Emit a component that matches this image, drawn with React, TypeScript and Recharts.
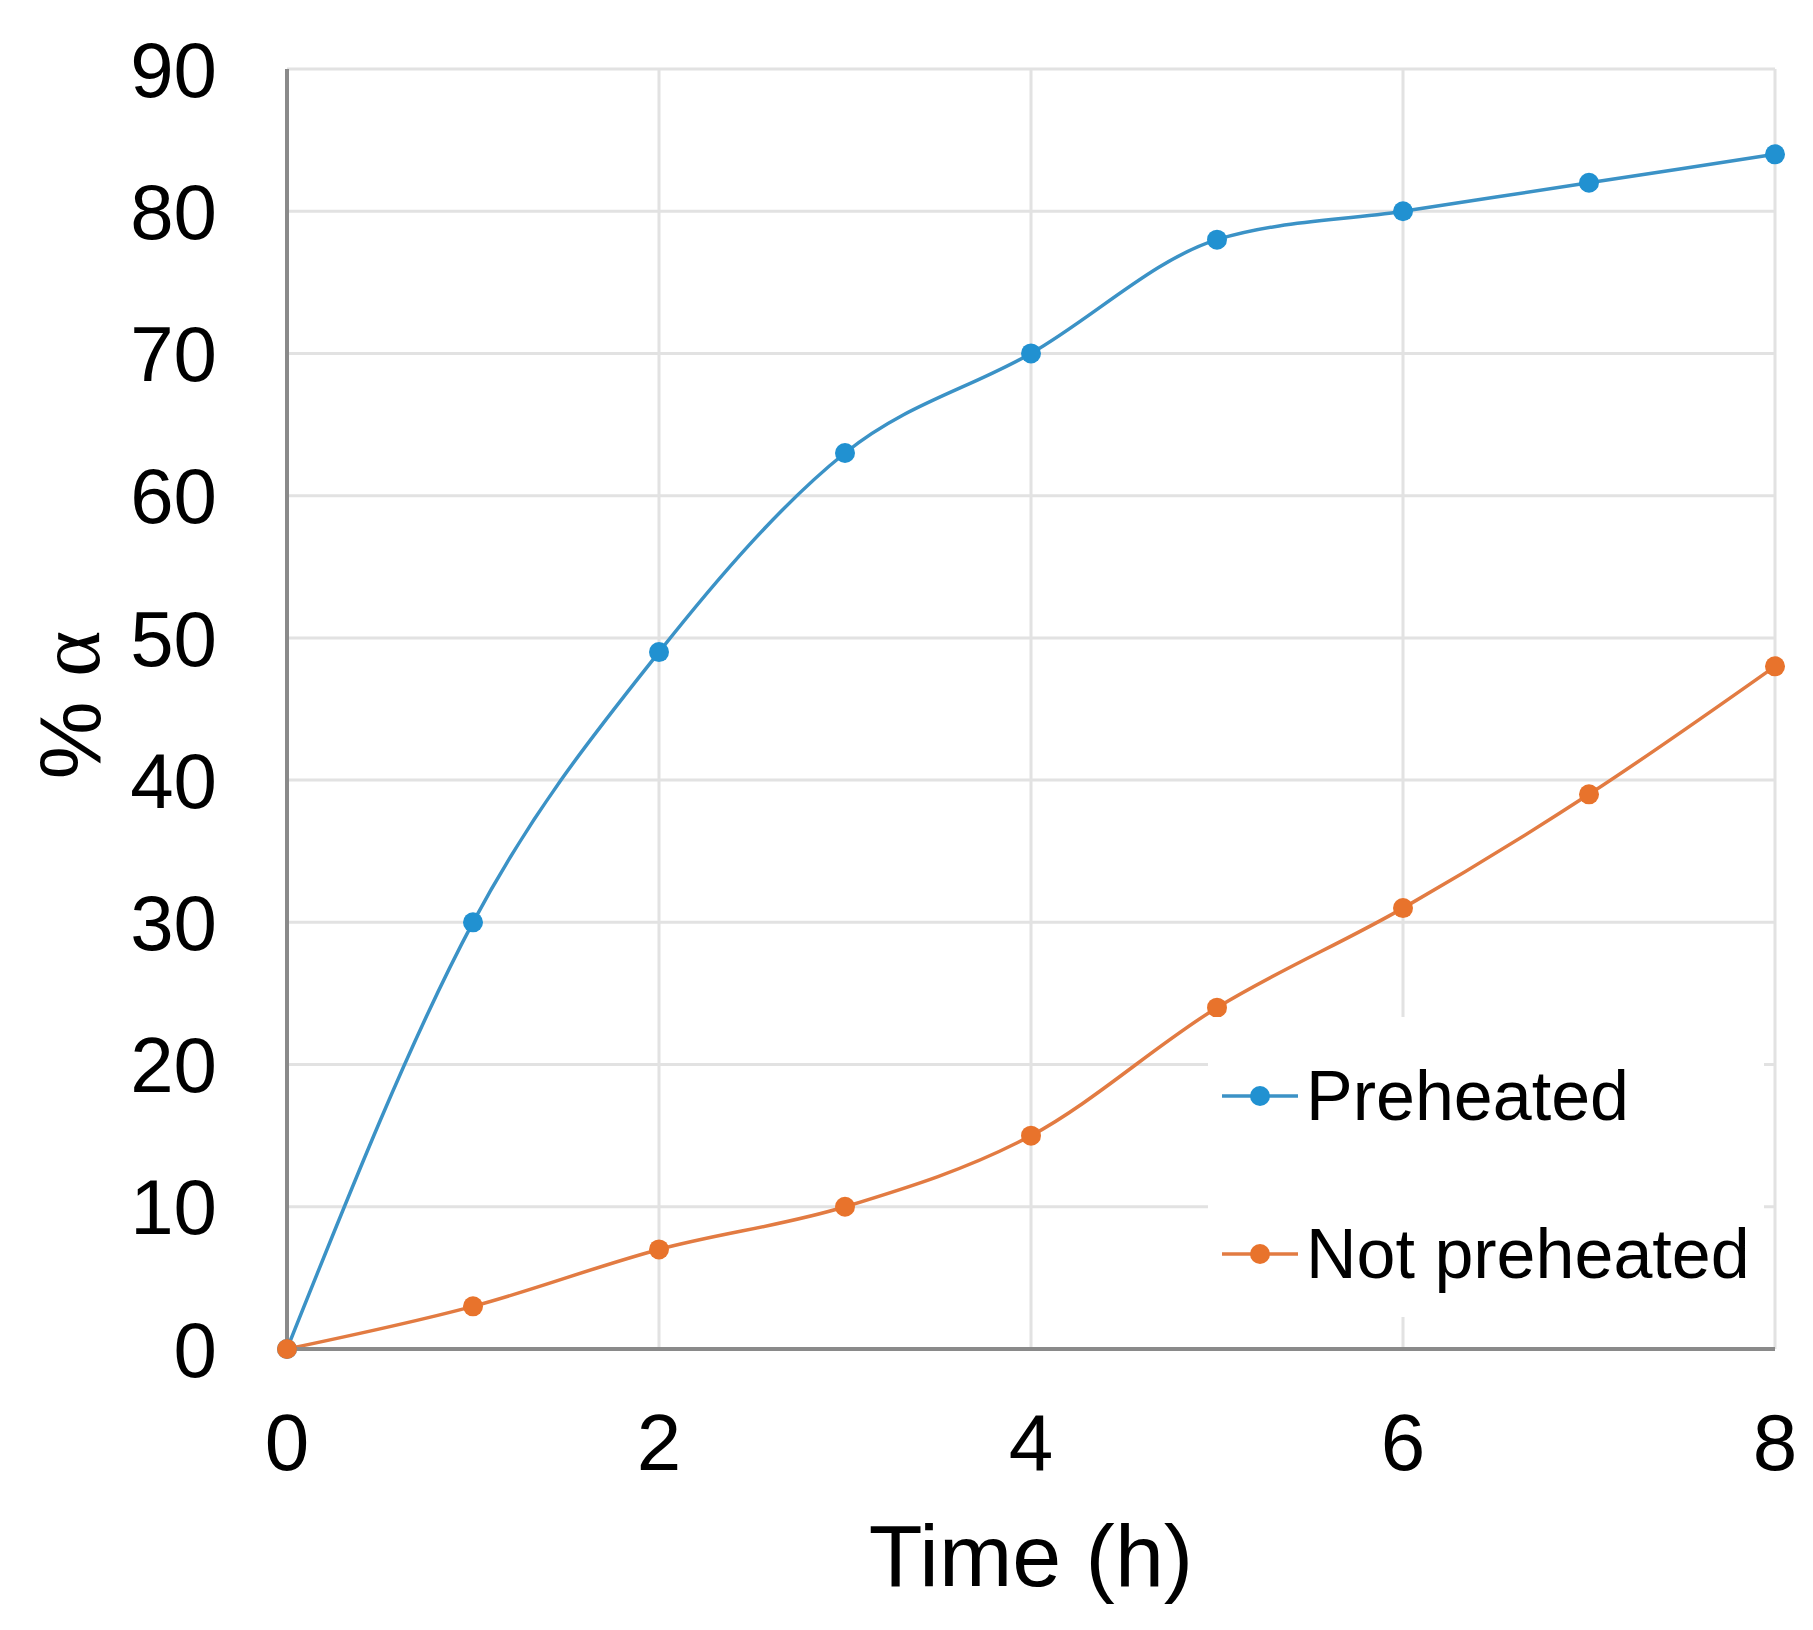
import React from "react"
import {
  CartesianGrid,
  Label,
  Legend,
  Line,
  LineChart,
  XAxis,
  YAxis,
} from "recharts"

const hours = [0, 1, 2, 3, 4, 5, 6, 7, 8]
const preheated = [0, 30, 49, 63, 70, 78, 80, 82, 84]
const notPreheated = [0, 3, 7, 10, 15, 24, 31, 39, 48]
const seriesNames = ["Preheated", "Not preheated"]
const xTicks = [0, 2, 4, 6, 8]
const yTicks = [0, 10, 20, 30, 40, 50, 60, 70, 80, 90]

const BLUE = "#2191d1"
const BLUE_LINE = "#3b92c6"
const ORANGE = "#e8732c"
const ORANGE_LINE = "#e27b42"
const SANS = "'Liberation Sans', Arial, sans-serif"

const data = hours.map((t, i) => ({
  t,
  preheated: preheated[i],
  notPreheated: notPreheated[i],
}))

function YTitle(props: any) {
  const vb = props.viewBox
  const x = vb.x + 69
  const y = vb.y + vb.height / 2 - 4
  return (
    <text
      x={x}
      y={y}
      transform={`rotate(-90 ${x} ${y})`}
      textAnchor="middle"
      dominantBaseline="central"
      fontSize={88}
      fontFamily={SANS}
      fill="#000"
    >
      %{" "}
      <tspan fontFamily="'Liberation Serif', serif">α</tspan>
    </text>
  )
}

function LegendBox(props: any) {
  // keep the series order (recharts sorts the payload by name)
  const items = [...(props.payload || [])].sort(
    (a: any, b: any) => seriesNames.indexOf(a.value) - seriesNames.indexOf(b.value)
  )
  return (
    <div style={{ background: "#fff", width: "100%", height: "100%", boxSizing: "border-box" }}>
      {items.map((item: any) => (
        <div key={item.value} style={{ display: "flex", alignItems: "center", height: 158 }}>
          <svg width={98} height={30} style={{ marginLeft: 14 }}>
            <line x1={0} y1={15} x2={76} y2={15} stroke={item.payload.stroke} strokeWidth={3.5} />
            <circle cx={38} cy={15} r={10} fill={item.payload.dot.fill} />
          </svg>
          <span style={{ fontFamily: SANS, fontSize: 70, color: "#000", marginLeft: -14 }}>
            {item.value}
          </span>
        </div>
      ))}
    </div>
  )
}

export default function App() {
  return (
    <div style={{ position: "absolute", left: 0, top: 0, width: 1813, height: 1630, background: "#fff" }}>
      <LineChart
        width={1813}
        height={1630}
        data={data}
        margin={{ top: 69, right: 38, bottom: 0, left: 0 }}
      >
        <CartesianGrid stroke="#e2e2e2" strokeWidth={3} />
        <XAxis
          dataKey="t"
          type="number"
          domain={[0, 8]}
          ticks={xTicks}
          height={281}
          tickLine={false}
          tickSize={0}
          tickMargin={64}
          axisLine={{ stroke: "#8a8a8a", strokeWidth: 4 }}
          tick={{ fontSize: 80, fill: "#000", fontFamily: SANS }}
        >
          <Label
            value="Time (h)"
            position="insideBottom"
            offset={44}
            style={{ fontSize: 88, fill: "#000", fontFamily: SANS }}
          />
        </XAxis>
        <YAxis
          type="number"
          domain={[0, 90]}
          ticks={yTicks}
          width={287}
          tickLine={false}
          tickSize={0}
          tickMargin={70}
          axisLine={{ stroke: "#8a8a8a", strokeWidth: 4 }}
          tick={{ fontSize: 78, fill: "#000", fontFamily: SANS }}
        >
          <Label content={YTitle} />
        </YAxis>
        <Legend
          layout="vertical"
          align="center"
          verticalAlign="middle"
          content={LegendBox}
          wrapperStyle={{ left: 1208, top: 1017, width: 556, height: 300 }}
        />
        <Line
          name={seriesNames[0]}
          dataKey="preheated"
          type="monotone"
          stroke={BLUE_LINE}
          strokeWidth={3.5}
          dot={{ r: 10, fill: BLUE, stroke: BLUE, strokeWidth: 0 }}
          activeDot={false}
          isAnimationActive={false}
        />
        <Line
          name={seriesNames[1]}
          dataKey="notPreheated"
          type="monotone"
          stroke={ORANGE_LINE}
          strokeWidth={3.5}
          dot={{ r: 10, fill: ORANGE, stroke: ORANGE, strokeWidth: 0 }}
          activeDot={false}
          isAnimationActive={false}
        />
      </LineChart>
    </div>
  )
}
